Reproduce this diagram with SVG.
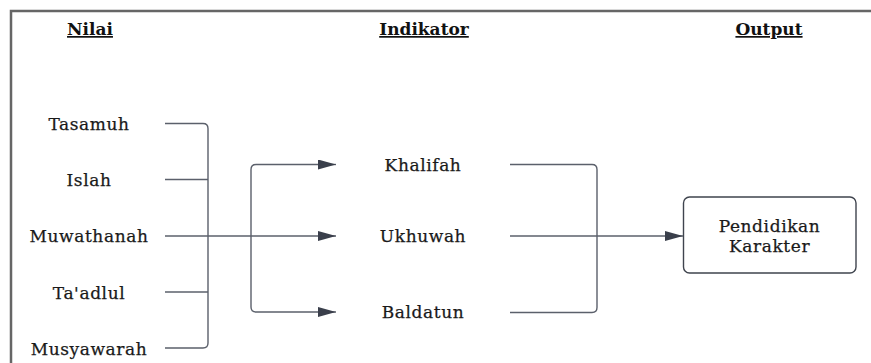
<svg xmlns="http://www.w3.org/2000/svg" width="871" height="363" viewBox="0 0 871 363">
<defs>
<style>
.hd{font-family:"DejaVu Serif","Liberation Serif",serif;font-weight:bold;font-size:17px;fill:#111;text-anchor:middle;text-decoration:underline}
.t{font-family:"DejaVu Serif","Liberation Serif",serif;font-size:17px;fill:#1a1a1a;stroke:#1a1a1a;stroke-width:0.25;text-anchor:middle;letter-spacing:0.6px}
.ln{fill:none;stroke:#5b606b;stroke-width:1.4}
.box{fill:#fff;stroke:#3f444e;stroke-width:1.4}
</style>
<marker id="ah" viewBox="0 0 18 10" refX="18" refY="5" markerWidth="18" markerHeight="10" markerUnits="userSpaceOnUse" orient="auto">
<path d="M0,0 L18,5 L0,10 Z" fill="#3a3f4b"/>
</marker>
</defs>
<rect width="871" height="363" fill="#fff"/>
<path d="M11,363 V11 H871" fill="none" stroke="#666" stroke-width="2.5"/>
<g id="headers">
<text class="hd" x="90" y="35">Nilai</text>
<text class="hd" x="424" y="35">Indikator</text>
<text class="hd" x="769" y="35">Output</text>
</g>
<g id="nilai">
<g id="n-tasamuh"><text class="t" x="89" y="130">Tasamuh</text></g>
<g id="n-islah"><text class="t" x="89" y="186">Islah</text></g>
<g id="n-muwathanah"><text class="t" x="89" y="242">Muwathanah</text></g>
<g id="n-taadlul"><text class="t" x="89" y="299">Ta'adlul</text></g>
<g id="n-musyawarah"><text class="t" x="89" y="355">Musyawarah</text></g>
</g>
<g id="indikator">
<g id="i-khalifah"><text class="t" x="423" y="171">Khalifah</text></g>
<g id="i-ukhuwah"><text class="t" x="423" y="242">Ukhuwah</text></g>
<g id="i-baldatun"><text class="t" x="423" y="318">Baldatun</text></g>
</g>
<g id="output">
<rect class="box" x="683.5" y="197" width="172.5" height="76" rx="6"/>
<text class="t" x="769.5" y="232">Pendidikan</text>
<text class="t" x="769.5" y="252">Karakter</text>
</g>
<g id="connectors">
<path class="ln" d="M165,123.5 H203 Q208,123.5 208,128.5 V343 Q208,348 203,348 H165"/>
<path class="ln" d="M165,179.5 H208"/>
<path class="ln" d="M165,292 H208"/>
<path class="ln" d="M165,236 H336" marker-end="url(#ah)"/>
<path class="ln" d="M320,164.5 H256 Q251,164.5 251,169.5 V307 Q251,312 256,312 H320"/>
<path class="ln" d="M318,164.5 H336" marker-end="url(#ah)"/>
<path class="ln" d="M318,312 H336" marker-end="url(#ah)"/>
<path class="ln" d="M510,164.5 H592 Q597,164.5 597,169.5 V307.5 Q597,312.5 592,312.5 H510"/>
<path class="ln" d="M510,236 H683" marker-end="url(#ah)"/>
</g>
</svg>
